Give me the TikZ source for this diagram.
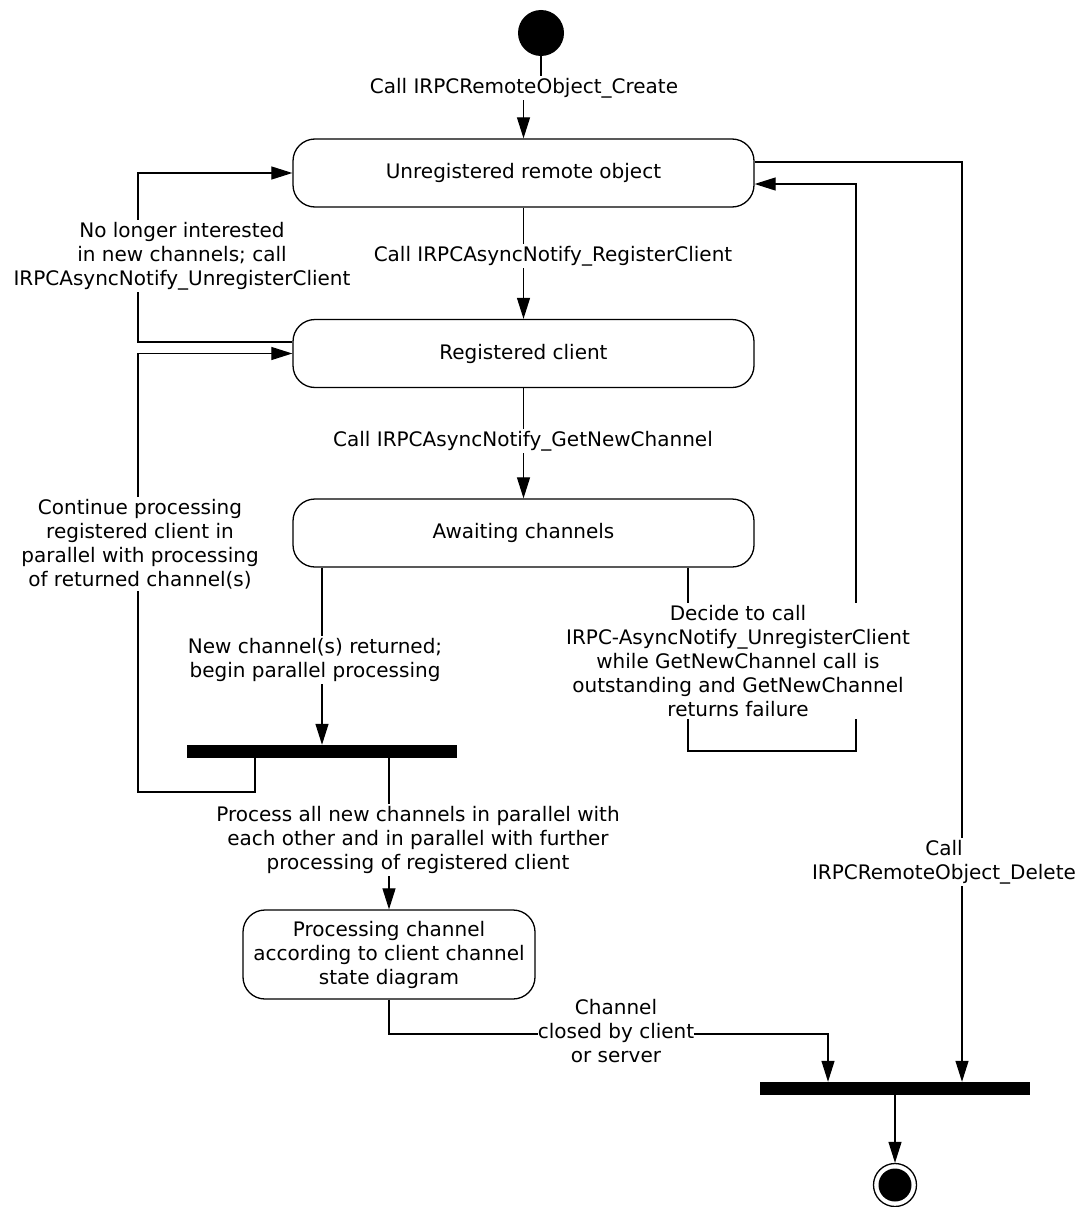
\documentclass[tikz,border=0pt]{standalone}
\usepackage{fontspec}
\setmainfont{DejaVu Sans}
\usetikzlibrary{arrows.meta}
\begin{document}
\begin{tikzpicture}[x=1pt,y=-1pt,
  font=\fontsize{20}{24}\selectfont,
  state/.style={draw, line width=1.3pt, rounded corners=22pt, minimum width=461pt, minimum height=68pt, align=center, inner sep=0pt},
  bar/.style={fill=black, inner sep=0pt, minimum width=270pt, minimum height=13pt},
  lbl/.style={fill=white, align=center, inner sep=2pt},
  conn/.style={line width=1.2pt},
  arr/.style={conn, -{Triangle[length=21pt,width=13pt]}}]
\useasboundingbox (0,0) rectangle (1080,1207);
% nodes
\node[circle, fill=black, minimum size=46pt, inner sep=0pt] (init) at (541,33) {};
\node[state] (unreg) at (523.5,173) {Unregistered remote object};
\node[state] (reg) at (523.5,353.5) {Registered client};
\node[state] (await) at (523.5,533) {Awaiting channels};
\node[bar] (fork) at (322,751.5) {};
\node[state, minimum width=292pt, minimum height=89pt] (proc) at (389,954.5) {Processing channel\\according to client channel\\state diagram};
\node[bar] (join) at (895,1088.5) {};
\node[circle, draw, line width=1.3pt, minimum size=43pt, inner sep=0pt] (final) at (895,1185) {};
\fill (final.center) circle (16.5pt);
% connectors
\draw[arr] (init.south) -- (541,88) -| (unreg.north);
\draw[arr] (unreg.south) -- (reg.north);
\draw[arr] (reg.south) -- (await.north);
\draw[arr] (reg.west) ++(0,-11.5) coordinate (rw) -- (138,342) |- (unreg.west);
\draw[arr] ([xshift=-67pt]fork.south) -- (255,792) -- (138,792) |- (reg.west);
\draw[arr] (await.south -| fork.north) -- (fork.north);
\draw[arr] (await.south -| 688,0) -- (688,751) -- (856,751) |- ([yshift=-11pt]unreg.east);
\draw[arr] ([yshift=11pt]unreg.east) -| ([xshift=67pt]join.north);
\draw[arr] (fork.south -| proc.north) -- (proc.north);
\draw[arr] (proc.south) -- (389,1034) -| ([xshift=-67pt]join.north);
\draw[arr] (join.south) -- (final.north);
% labels
\node[lbl] (l1) at (524,88) {Call IRPCRemoteObject\_Create};
\node[lbl] (l2) at (553,256) {Call IRPCAsyncNotify\_RegisterClient};
\node[lbl] (l3) at (523,441) {Call IRPCAsyncNotify\_GetNewChannel};
\node[lbl] (l4) at (182,256) {No longer interested\\in new channels; call\\IRPCAsyncNotify\_UnregisterClient};
\node[lbl] (l5) at (140,544) {Continue processing\\registered client in\\parallel with processing\\of returned channel(s)};
\node[lbl] (l6) at (315,660) {New channel(s) returned;\\begin parallel processing};
\node[lbl] (l7) at (738,661) {Decide to call\\IRPC-AsyncNotify\_UnregisterClient\\while GetNewChannel call is\\outstanding and GetNewChannel\\returns failure};
\node[lbl] (l8) at (418,840) {Process all new channels in parallel with\\each other and in parallel with further\\processing of registered client};
\node[lbl, inner sep=0pt] (l9) at (616,1031) {Channel\\closed by client\\or server};
\node[lbl] (l10) at (944,862) {Call\\IRPCRemoteObject\_Delete};
\end{tikzpicture}
\end{document}
